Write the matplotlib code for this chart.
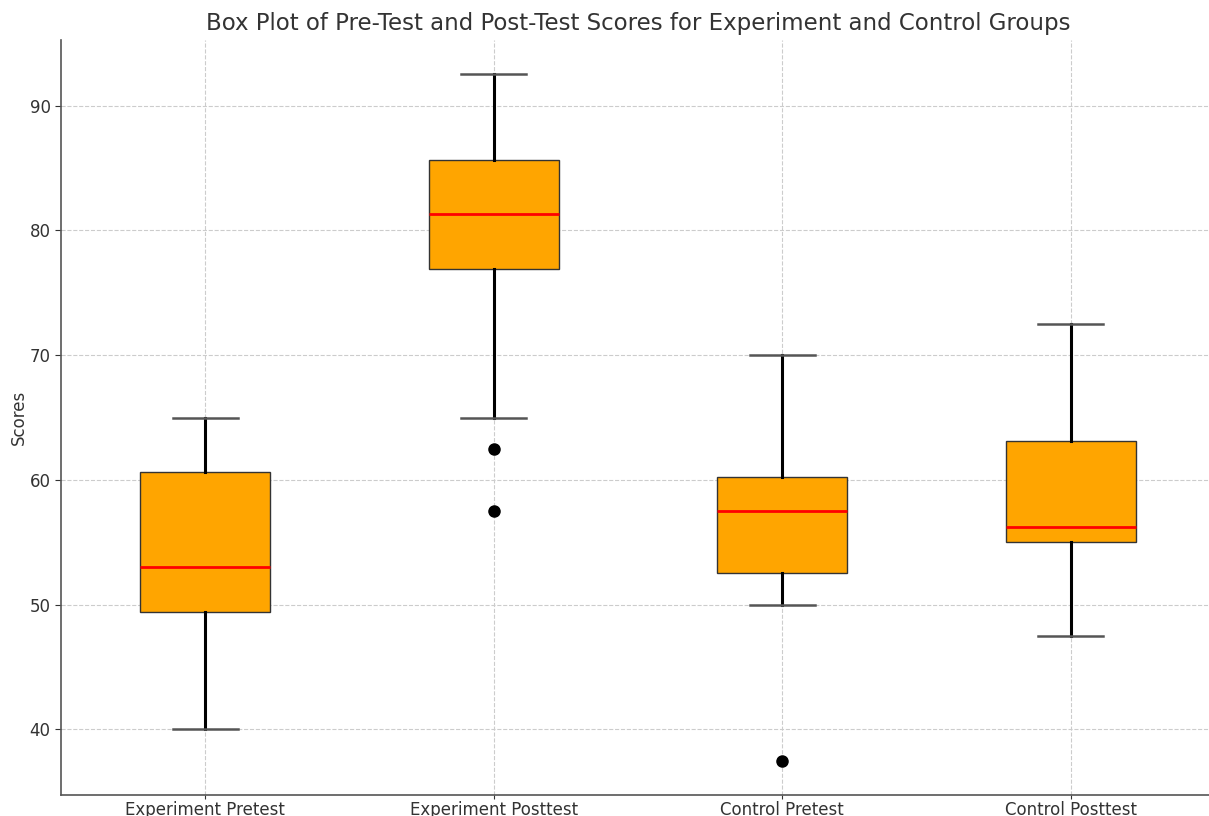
import matplotlib
matplotlib.use("Agg")
import matplotlib.pyplot as plt

labels = ["Experiment Pretest", "Experiment Posttest", "Control Pretest", "Control Posttest"]
whislo = [40.0, 65.0, 50.0, 47.5]
q1 = [49.4, 76.9, 52.5, 55.0]
med = [53.0, 81.3, 57.5, 56.25]
q3 = [60.6, 85.6, 60.2, 63.1]
whishi = [65.0, 92.5, 70.0, 72.5]
fliers = [[], [62.5, 57.5], [37.5], []]

stats = []
for i in range(len(labels)):
    stats.append(dict(label=labels[i], whislo=whislo[i], q1=q1[i], med=med[i],
                      q3=q3[i], whishi=whishi[i], fliers=fliers[i]))

fig = plt.figure(figsize=(12.09, 8.16), dpi=100)
ax = fig.add_axes([61/1209, 21/816, (1215-61)/1209, (795-40)/816])
ax.set_axisbelow(True)
ax.grid(True, linestyle='--', color='#cccccc', linewidth=0.8)

ax.bxp(stats, positions=[1, 2, 3, 4], widths=0.45, patch_artist=True,
       boxprops=dict(facecolor='orange', edgecolor='#333333', linewidth=1.0),
       medianprops=dict(color='red', linewidth=2),
       whiskerprops=dict(color='black', linewidth=2.2),
       capprops=dict(color='#555555', linewidth=1.8),
       flierprops=dict(marker='o', markerfacecolor='black', markeredgecolor='black', markersize=8))

ax.set_xlim(0.5, 4.5)
ax.set_ylim(34.75, 95.25)
ax.set_yticks([40, 50, 60, 70, 80, 90])
for s in ['top', 'right']:
    ax.spines[s].set_visible(False)
for s in ['left', 'bottom']:
    ax.spines[s].set_color('#555555')
    ax.spines[s].set_linewidth(1.2)
ax.tick_params(colors='#333333', labelsize=12, length=4)
ax.tick_params(axis='x', length=3, pad=1.5)
ax.set_ylabel('Scores', fontsize=12, color='#333333', labelpad=1)
ax.set_title('Box Plot of Pre-Test and Post-Test Scores for Experiment and Control Groups',
             fontsize=16.5, color='#333333', pad=7)
fig.savefig('out.png', dpi=100)
